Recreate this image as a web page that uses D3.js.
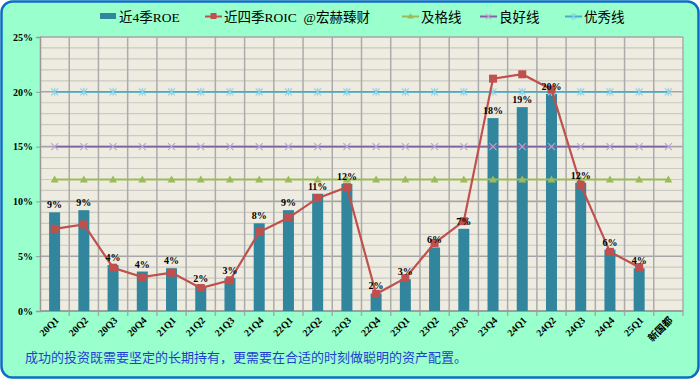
<!DOCTYPE html>
<html><head><meta charset="utf-8">
<script src="https://cdn.jsdelivr.net/npm/d3@7/dist/d3.min.js"></script>
<style>body{margin:0;background:#fff}svg{display:block}</style>
</head><body><svg id="c" width="700" height="379"></svg>
<script>
const categories = ["20Q1","20Q2","20Q3","20Q4","21Q1","21Q2","21Q3","21Q4","22Q1","22Q2","22Q3","22Q4","23Q1","23Q2","23Q3","23Q4","24Q1","24Q2","24Q3","24Q4","25Q1","新国都"];
const roe  = [9.0,9.2,4.2,3.6,3.9,2.3,3.0,8.0,9.2,10.7,11.6,1.6,2.9,5.8,7.5,17.6,18.6,19.8,11.7,5.6,3.9,null];
const roeLabels = ["9%","9%","4%","4%","4%","2%","3%","8%","9%","11%","12%","2%","3%","6%","7%","18%","19%","20%","12%","6%","4%",null];
const roic = [7.5,7.9,3.95,3.1,3.5,2.1,2.8,7.2,8.5,10.3,11.3,1.55,3.0,6.2,8.2,21.2,21.6,20.2,11.5,5.4,4.0,null];
const passLine = 12, goodLine = 15, excLine = 20;
const yTicks = [0,5,10,15,20,25];
const seriesNames = ["近4季ROE","近四季ROIC  @宏赫臻财","及格线","良好线","优秀线"];
const footer = "成功的投资既需要坚定的长期持有，更需要在合适的时刻做聪明的资产配置。";

const svg = d3.select("#c");
const L=40,R=683,T=37,B=311;
svg.append("rect").attr("x",1.5).attr("y",1.5).attr("width",697).attr("height",376).attr("rx",11)
  .attr("fill","#99FFCC").attr("stroke","#0A6FC2").attr("stroke-width",2.5);
const x = d3.scaleBand().domain(categories).range([L,R]);
const y = d3.scaleLinear().domain([0,25]).range([B,T]);
svg.append("rect").attr("x",L).attr("y",T).attr("width",R-L).attr("height",B-T).attr("fill","#EEECE1");
// minor grid
svg.append("g").selectAll("line").data(d3.range(0,26)).join("line")
  .attr("x1",L).attr("x2",R).attr("y1",d=>y(d)).attr("y2",d=>y(d))
  .attr("stroke",d=>d%5===0?"#A6A6A6":"#CBC9C1").attr("stroke-width",d=>d%5===0?1.6:1.2);
// vertical grid
svg.append("g").selectAll("line").data(categories.slice(1).concat(["__end"])).join("line")
  .attr("x1",(d,i)=>L+(i+1)*x.step()).attr("x2",(d,i)=>L+(i+1)*x.step())
  .attr("y1",T).attr("y2",B+5).attr("stroke","#ABABAB").attr("stroke-width",1.5);
// y axis
const yAxis = d3.axisLeft(y).tickValues(yTicks).tickFormat(d=>d+"%").tickSize(4);
const ga = svg.append("g").attr("transform",`translate(${L},0)`).call(yAxis);
ga.select(".domain").attr("stroke","#999").attr("stroke-width",1.5);
ga.selectAll(".tick line").attr("stroke","#999");
ga.selectAll("text").attr("font-family","Liberation Serif").attr("font-weight","bold").attr("font-size",10).attr("fill","#000").attr("x",-7);
svg.append("line").attr("x1",L).attr("x2",R).attr("y1",B).attr("y2",B).attr("stroke","#999").attr("stroke-width",1.5);
// x labels
const xAxis = d3.axisBottom(x).tickSize(0);
const gx = svg.append("g").attr("transform",`translate(0,${B})`).call(xAxis);
gx.select(".domain").remove();
gx.selectAll("text").attr("font-family",d=>/[\u4e00-\u9fff]/.test(d)?"Noto Sans CJK SC":"Liberation Serif")
  .attr("font-weight","bold").attr("font-size",10).attr("fill","#000")
  .attr("text-anchor","end").attr("dy",0).attr("y",0)
  .attr("transform","translate(5,10) rotate(-45)");
// bars
const bw=11;
svg.append("g").selectAll("rect").data(categories.map((c,i)=>({c,v:roe[i]})).filter(d=>d.v!=null)).join("rect")
  .attr("x",d=>x(d.c)+x.bandwidth()/2-bw/2).attr("width",bw)
  .attr("y",d=>y(d.v)).attr("height",d=>B-y(d.v)).attr("fill","#31859C");
// threshold lines
function thr(val,color,mcolor,shape){
  const pts=categories.map(c=>[x(c)+x.bandwidth()/2,y(val)]);
  svg.append("path").attr("d",d3.line()(pts)).attr("stroke",color).attr("stroke-width",1.8).attr("fill","none");
  const g=svg.append("g");
  pts.forEach(p=>{
    if(shape==="tri") g.append("path").attr("d",`M${p[0]},${p[1]-4}L${p[0]+4},${p[1]+3}L${p[0]-4},${p[1]+3}Z`).attr("fill",mcolor);
    else if(shape==="x") g.append("path").attr("d",`M${p[0]-3.5},${p[1]-3.5}L${p[0]+3.5},${p[1]+3.5}M${p[0]+3.5},${p[1]-3.5}L${p[0]-3.5},${p[1]+3.5}`).attr("stroke",mcolor).attr("stroke-width",1.2);
    else g.append("path").attr("d",`M${p[0]-3.5},${p[1]-3.5}L${p[0]+3.5},${p[1]+3.5}M${p[0]+3.5},${p[1]-3.5}L${p[0]-3.5},${p[1]+3.5}M${p[0]},${p[1]-4}L${p[0]},${p[1]+4}`).attr("stroke",mcolor).attr("stroke-width",1.2);
  });
}
thr(excLine,"#4BACC6","#8FD4E6","star");
thr(goodLine,"#8064A2","#B8A6D0","x");
thr(passLine,"#9BBB59","#9BBB59","tri");
// ROIC line
const rp = categories.map((c,i)=>({c,v:roic[i]})).filter(d=>d.v!=null);
svg.append("path").attr("d",d3.line().x(d=>x(d.c)+x.bandwidth()/2).y(d=>y(d.v))(rp))
  .attr("stroke","#C0504D").attr("stroke-width",2.2).attr("fill","none");
svg.append("g").selectAll("rect").data(rp).join("rect")
  .attr("x",d=>x(d.c)+x.bandwidth()/2-4).attr("y",d=>y(d.v)-4).attr("width",8).attr("height",8).attr("fill","#C0504D");
// data labels
svg.append("g").selectAll("text").data(categories.map((c,i)=>({c,v:roe[i],t:roeLabels[i]})).filter(d=>d.v!=null)).join("text")
  .attr("x",d=>x(d.c)+x.bandwidth()/2).attr("y",d=>y(d.v)-4).attr("text-anchor","middle")
  .attr("font-family","Liberation Serif").attr("font-weight","bold").attr("font-size",10).attr("fill","#000").text(d=>d.t);
// legend
const lg = svg.append("g").attr("font-family","Liberation Serif, Noto Sans CJK SC").attr("font-size",13.5).attr("fill","#000");
const lx=[100,205,402,480,565];
lg.append("rect").attr("x",lx[0]).attr("y",13).attr("width",16).attr("height",6).attr("fill","#31859C");
lg.append("line").attr("x1",lx[1]).attr("x2",lx[1]+17).attr("y1",16.5).attr("y2",16.5).attr("stroke","#C0504D").attr("stroke-width",2);
lg.append("rect").attr("x",lx[1]+5.5).attr("y",13).attr("width",6).attr("height",6).attr("fill","#C0504D");
lg.append("line").attr("x1",lx[2]).attr("x2",lx[2]+17).attr("y1",16.5).attr("y2",16.5).attr("stroke","#9BBB59").attr("stroke-width",2);
lg.append("path").attr("d",`M${lx[2]+8.5},${13}L${lx[2]+11.5},${18.5}L${lx[2]+5.5},${18.5}Z`).attr("fill","#9BBB59");
lg.append("line").attr("x1",lx[3]).attr("x2",lx[3]+17).attr("y1",16.5).attr("y2",16.5).attr("stroke","#8064A2").attr("stroke-width",2);
lg.append("path").attr("d",`M${lx[3]+6},${14}L${lx[3]+11},${19}M${lx[3]+11},${14}L${lx[3]+6},${19}`).attr("stroke","#B8A6D0").attr("stroke-width",1.2);
lg.append("line").attr("x1",lx[4]).attr("x2",lx[4]+17).attr("y1",16.5).attr("y2",16.5).attr("stroke","#4BACC6").attr("stroke-width",2);
lg.append("path").attr("d",`M${lx[4]+6},${14}L${lx[4]+11},${19}M${lx[4]+11},${14}L${lx[4]+6},${19}M${lx[4]+8.5},${13}L${lx[4]+8.5},${20}`).attr("stroke","#8FD4E6").attr("stroke-width",1.2);
seriesNames.forEach((n,i)=>lg.append("text").attr("x",lx[i]+19).attr("y",21.5).attr("xml:space","preserve").style("white-space","pre").text(n));
// footer
svg.append("text").attr("x",25).attr("y",362).attr("font-family","Noto Sans CJK SC").attr("font-size",13).attr("fill","#1F3FCF").text(footer);
</script></body></html>
